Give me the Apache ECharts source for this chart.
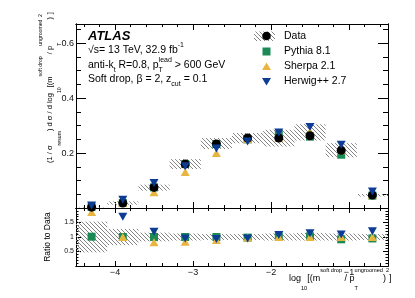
<!DOCTYPE html>
<html><head><meta charset="utf-8">
<script src="https://cdn.jsdelivr.net/npm/echarts@6/dist/echarts.min.js"></script>
<style>html,body{margin:0;padding:0;background:#fff}#c{width:415px;height:298px}</style>
</head><body><div id="c"></div>
<script>
// ---- data ----
const binCenters = [-4.3, -3.9, -3.5, -3.1, -2.7, -2.3, -1.9, -1.5, -1.1, -0.7];
const binWidth = 0.4;
const dataVals = [0.003, 0.018, 0.075, 0.160, 0.233, 0.255, 0.255, 0.263, 0.210, 0.047];
const dataLow  = [0.002, 0.012, 0.063, 0.142, 0.215, 0.236, 0.224, 0.246, 0.185, 0.042];
const dataHigh = [0.004, 0.024, 0.085, 0.178, 0.255, 0.273, 0.285, 0.305, 0.236, 0.051];
const pythia = [0.004, 0.018, 0.075, 0.160, 0.233, 0.250, 0.267, 0.260, 0.194, 0.045];
const sherpa = [0.008, 0.018, 0.057, 0.131, 0.200, 0.250, 0.255, 0.279, 0.210, 0.047];
const herwig = [0.009, 0.030, 0.091, 0.152, 0.217, 0.242, 0.275, 0.295, 0.230, 0.060];
const ratioPythia = [1.01, 1.00, 1.00, 1.00, 1.00, 0.98, 1.02, 1.02, 0.92, 0.95];
const ratioSherpa = [1.86, 1.00, 0.82, 0.84, 0.90, 0.98, 1.00, 1.00, 1.00, 1.00];
const ratioHerwig = [2.30, 1.70, 1.18, 0.95, 0.93, 0.95, 1.07, 1.13, 1.09, 1.20];
const ratioLow  = [0.47, 0.72, 0.85, 0.88, 0.90, 0.90, 0.88, 0.88, 0.88, 0.90];
const ratioHigh = [1.53, 1.28, 1.15, 1.12, 1.10, 1.10, 1.12, 1.14, 1.12, 1.10];
const xMajor = [-4, -3, -2, -1];
const xMinor = [-4.4,-4.2,-3.8,-3.6,-3.4,-3.2,-2.8,-2.6,-2.4,-2.2,-1.8,-1.6,-1.4,-1.2,-0.8,-0.6];
const yMainMajor = [0.2, 0.4, 0.6];
const yMainMinor = [0.05,0.1,0.15,0.25,0.3,0.35,0.45,0.5,0.55,0.65];
const yRatioMajor = [0.5, 1, 1.5];
const yRatioMinor = [0.1,0.2,0.3,0.4,0.6,0.7,0.8,0.9,1.1,1.2,1.3,1.4,1.6,1.7,1.8,1.9];
const legendNames = ['Data', 'Pythia 8.1', 'Sherpa 2.1', 'Herwig++ 2.7'];

// ---- style ----
const FONT = '"Liberation Sans", Arial, Helvetica, sans-serif';
const C_PY = '#1b8a55', C_SH = '#e8b540', C_HW = '#0c3c94';
function makeHatch() {
  const c = document.createElement('canvas'); c.width = 4; c.height = 4;
  const g = c.getContext('2d'); g.fillStyle = '#858585';
  for (let i = 0; i < 4; i++) g.fillRect(i, i, 1, 1);
  return c;
}
const hatchFill = { image: makeHatch(), repeat: 'repeat' };

function xAx(grid, pos, vals, len, label) {
  return {
    type: 'value', gridIndex: grid, position: pos, min: -4.5, max: -0.5,
    axisLine: { show: true, onZero: false, lineStyle: { color: '#000', width: 1 } },
    axisTick: { show: true, inside: true, length: len, customValues: vals, lineStyle: { color: '#000', width: 1 } },
    axisLabel: label ? {
      show: true, customValues: xMajor, margin: 2, fontSize: 9, fontFamily: FONT, color: '#111',
      formatter: v => String(v).replace('-', '\u2212')
    } : { show: false },
    splitLine: { show: false }
  };
}
function yAx(grid, pos, min, max, vals, len, labels, fs) {
  return {
    type: 'value', gridIndex: grid, position: pos, min: min, max: max,
    axisLine: { show: true, onZero: false, lineStyle: { color: '#000', width: 1 } },
    axisTick: { show: true, inside: true, length: len, customValues: vals, lineStyle: { color: '#000', width: 1 } },
    axisLabel: labels ? {
      show: true, customValues: labels, margin: 2, fontSize: fs, fontFamily: FONT, color: '#111',
      formatter: v => (grid === 0 ? v.toFixed(1) : String(v))
    } : { show: false },
    splitLine: { show: false }
  };
}

function band(xi, yi, lo, hi) {
  return {
    type: 'custom', xAxisIndex: xi, yAxisIndex: yi, silent: true, z: 1,
    data: binCenters.map((c, i) => [c, lo[i], hi[i]]),
    encode: { x: 0, y: [1, 2] },
    renderItem: (params, api) => {
      const c = api.value(0);
      const p1 = api.coord([c - binWidth / 2, api.value(2)]);
      const p2 = api.coord([c + binWidth / 2, api.value(1)]);
      return { type: 'rect', shape: { x: p1[0], y: p1[1], width: p2[0] - p1[0], height: p2[1] - p1[1] },
               style: { fill: hatchFill, stroke: null } };
    }
  };
}
function pts(xi, yi, vals, symbol, size, color, rot, z) {
  return {
    type: 'scatter', xAxisIndex: xi, yAxisIndex: yi, silent: true, z: z,
    data: binCenters.map((c, i) => [c, vals[i]]),
    symbol: symbol, symbolSize: size, symbolRotate: rot, clip: true,
    itemStyle: { color: color, opacity: 1 }
  };
}

function mkRich(fs, supH, sup2H, subH, subTH) {
  const base = { fontSize: fs, align: 'left', fontFamily: FONT, fill: '#000' };
  return {
    sup: Object.assign({ lineHeight: supH, verticalAlign: 'top' }, base),
    sup2: Object.assign({ lineHeight: sup2H, verticalAlign: 'top' }, base),
    sub: Object.assign({ lineHeight: subH, verticalAlign: 'bottom' }, base),
    subT: Object.assign({ lineHeight: subTH, verticalAlign: 'bottom', width: 0.1 }, base)
  };
}
const richBase = mkRich(7, 6, 6, 8, 10);
const richX = mkRich(5.6, 5, 11, 15, 14);
const richY = mkRich(5.2, 5, 11, 15, 14);

function txt(x, y, text, opts) {
  return Object.assign({
    type: 'text', x: x, y: y, silent: true,
    style: Object.assign({ text: text, fill: '#000', fontFamily: FONT, fontSize: 10.5, lineHeight: 17,
      align: 'left', verticalAlign: 'middle', textAlign: 'left', textVerticalAlign: 'middle', rich: richBase }, opts && opts.style)
  }, opts && opts.el);
}

const lx = 266.5, tx = 284;
const legendY = [36, 51.5, 66.5, 81.5];

const graphic = [
  txt(88, 36.5, 'ATLAS', { style: { fontSize: 13, fontWeight: 'bold', fontStyle: 'italic' } }),
  txt(88, 50.5, '\u221As= 13 TeV, 32.9 fb{sup|-1}'),
  txt(88, 65, 'anti-k{sub|t} R=0.8, p{subT|T}{sup|lead} > 600 GeV'),
  txt(88, 79, 'Soft drop, \u03B2 = 2, z{sub|cut} = 0.1'),
  // legend
  { type: 'rect', silent: true, shape: { x: 254, y: 31.5, width: 21, height: 9.5 }, style: { fill: hatchFill } },
  { type: 'circle', silent: true, shape: { cx: lx, cy: legendY[0], r: 4.3 }, style: { fill: '#000' } },
  { type: 'rect', silent: true, shape: { x: lx - 4, y: legendY[1] - 4, width: 8, height: 8 }, style: { fill: C_PY } },
  { type: 'polygon', silent: true, shape: { points: [[lx - 4.5, legendY[2] + 3.5], [lx + 4.5, legendY[2] + 3.5], [lx, legendY[2] - 4]] }, style: { fill: C_SH } },
  { type: 'polygon', silent: true, shape: { points: [[lx - 4.5, legendY[3] - 3.5], [lx + 4.5, legendY[3] - 3.5], [lx, legendY[3] + 4]] }, style: { fill: C_HW } },
  txt(tx, legendY[0], legendNames[0]),
  txt(tx, legendY[1], legendNames[1]),
  txt(tx, legendY[2], legendNames[2]),
  txt(tx, legendY[3], legendNames[3]),
  // axis titles
  txt(289, 279, 'log{sub|10}[(m{sup|soft drop} / p{subT|T}{sup|ungroomed}){sup2|2}]',
      { style: { fontSize: 9, lineHeight: 24, rich: richX } }),
  txt(50, 163, '(1 / \u03C3{sub|resum}) d \u03C3 / d log{sub|10}[(m{sup|soft drop} / p{subT|T}{sup|ungroomed}){sup2|2}]',
      { style: { fontSize: 7.5, lineHeight: 24, rich: richY }, el: { rotation: Math.PI / 2 } }),
  txt(48, 237, 'Ratio to Data',
      { style: { fontSize: 8.5, lineHeight: 12, align: 'center', textAlign: 'center' }, el: { rotation: Math.PI / 2 } })
];

const option = {
  animation: false,
  backgroundColor: '#fff',
  grid: [
    { left: 76, top: 24, width: 312, height: 184, containLabel: false },
    { left: 76, top: 208, width: 312, height: 58, containLabel: false }
  ],
  xAxis: [
    xAx(0, 'bottom', xMajor, 6, false), xAx(0, 'bottom', xMinor, 3, false),
    xAx(0, 'top', xMajor, 6, false), xAx(0, 'top', xMinor, 3, false),
    xAx(1, 'bottom', xMajor, 5, true), xAx(1, 'bottom', xMinor, 3, false),
    xAx(1, 'top', xMajor, 5, false), xAx(1, 'top', xMinor, 3, false)
  ],
  yAxis: [
    yAx(0, 'left', 0, 0.67, yMainMajor, 10, yMainMajor, 9), yAx(0, 'left', 0, 0.67, yMainMinor, 5, null),
    yAx(0, 'right', 0, 0.67, yMainMajor, 10, null), yAx(0, 'right', 0, 0.67, yMainMinor, 5, null),
    yAx(1, 'left', 0, 2, yRatioMajor, 5, yRatioMajor, 7), yAx(1, 'left', 0, 2, yRatioMinor, 2.5, null),
    yAx(1, 'right', 0, 2, yRatioMajor, 5, null), yAx(1, 'right', 0, 2, yRatioMinor, 2.5, null)
  ],
  series: [
    band(0, 0, dataLow, dataHigh),
    pts(0, 0, pythia, 'rect', 8, C_PY, 0, 3),
    pts(0, 0, sherpa, 'triangle', [9, 8], C_SH, 0, 4),
    pts(0, 0, dataVals, 'circle', 9, '#000', 0, 5),
    pts(0, 0, herwig, 'triangle', [9, 8], C_HW, 180, 6),
    band(4, 4, ratioLow, ratioHigh),
    pts(4, 4, ratioPythia, 'rect', 8, C_PY, 0, 3),
    pts(4, 4, ratioSherpa, 'triangle', [9, 8], C_SH, 0, 4),
    pts(4, 4, ratioHerwig, 'triangle', [9, 8], C_HW, 180, 5)
  ],
  graphic: graphic
};
const chart = echarts.init(document.getElementById('c'), null, { renderer: 'canvas' });
chart.setOption(option);
</script></body></html>
